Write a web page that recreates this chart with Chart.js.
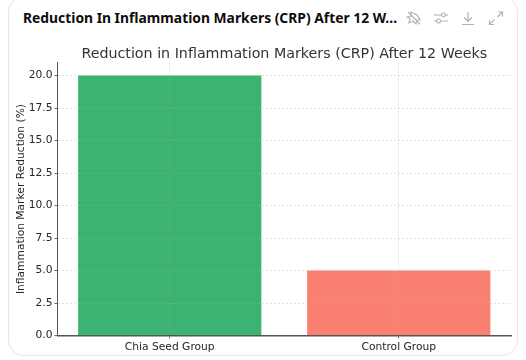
<!DOCTYPE html>
<html>
<head>
<meta charset="utf-8">
<script src="https://cdn.jsdelivr.net/npm/chart.js@4"></script>
<style>
    html, body { margin: 0; padding: 0; background: #fff; overflow: hidden; }
    #wrap { position: relative; width: 526px; height: 360px; }
    #card { position: absolute; left: 8px; top: -4px; width: 508px; height: 358px; border: 1px solid #e6e6e6; border-radius: 16px; box-sizing: content-box; }
    #head { position: absolute; left: 23px; top: 8px; font: 700 13.85px "Noto Sans", sans-serif; color: #0d0d0d; white-space: nowrap; }
    .ic { position: absolute; top: 10px; width: 16px; height: 16px; fill: none; stroke: #b4b4b4; stroke-width: 1.2; }
    canvas { position: absolute; left: 0; top: 0; }
</style>
</head>
<body>
<div id="wrap">
    <div id="card"></div>
    <div id="head">Reduction In Inflammation Markers (CRP) After 12 W...</div>
    <svg class="ic" style="left:406px" viewBox="0 0 16 16"><path d="M5 2l6 3 3 5-3 0-1 4-3-3-4 2 1-4-3-2 4-1zM2 2l12 12"/></svg>
    <svg class="ic" style="left:433px" viewBox="0 0 16 16"><path d="M1 5h8M12 5h3M1 11h3M7 11h8"/><circle cx="10.5" cy="5" r="2"/><circle cx="5.5" cy="11" r="2"/></svg>
    <svg class="ic" style="left:460px" viewBox="0 0 16 16"><path d="M8 2v9M4 7.5l4 4 4-4M2 14.5h12"/></svg>
    <svg class="ic" style="left:488px" viewBox="0 0 16 16"><path d="M10 2h4.5v4.5M14.5 2l-5 5M6 14.5H1.5V10M1.5 14.5l5-5"/></svg>
    <canvas id="chart" width="526" height="360"></canvas>
</div>
<script>
const categories = ['Chia Seed Group', 'Control Group'];
const reductionValues = [20, 5];
const barColors = ['#3CB371', '#FA8072'];
const chartTitle = 'Reduction in Inflammation Markers (CRP) After 12 Weeks';
const yAxisTitle = 'Inflammation Marker Reduction (%)';

const fontName = '"DejaVu Sans", sans-serif';
const gridColor = 'rgba(170,170,170,0.45)';

new Chart(document.getElementById('chart'), {
    type: 'bar',
    data: {
        datasets: [{
            data: reductionValues.map(function (v, i) { return { x: i, y: v }; }),
            backgroundColor: barColors,
            borderWidth: 0,
            barPercentage: 0.8,
            categoryPercentage: 1
        }]
    },
    options: {
        responsive: false,
        animation: false,
        layout: { padding: { left: 0, right: 15, top: 0, bottom: 0 } },
        plugins: {
            legend: { display: false },
            tooltip: { enabled: false },
            title: {
                display: true,
                text: chartTitle,
                fullSize: false,
                color: '#333333',
                font: { family: fontName, size: 14.25, weight: 'normal' },
                padding: { top: 45.5, bottom: 0 }
            }
        },
        scales: {
            x: {
                type: 'linear',
                offset: false,
                min: -0.49,
                max: 1.49,
                afterBuildTicks: function (scale) {
                    scale.ticks = categories.map(function (c, i) { return { value: i }; });
                },
                afterFit: function (scale) { scale.height = 24.5; },
                grid: {
                    offset: false,
                    color: gridColor,
                    tickColor: '#444444',
                    tickLength: 3,
                    lineWidth: 0.8,
                    z: 1
                },
                border: { display: true, color: '#555555', width: 1.4, dash: [2, 2], z: 2 },
                ticks: {
                    color: '#262626',
                    font: { family: fontName, size: 10.7 },
                    padding: 2,
                    maxRotation: 0,
                    autoSkip: false,
                    callback: function (value) { return categories[value]; }
                }
            },
            y: {
                min: 0,
                max: 21,
                afterFit: function (scale) { scale.width = 57.5; },
                grid: {
                    color: gridColor,
                    tickColor: '#444444',
                    tickLength: 3,
                    lineWidth: 0.8,
                    z: 1
                },
                border: { display: true, color: '#555555', width: 1, dash: [2, 2], z: 2 },
                title: {
                    display: true,
                    text: yAxisTitle,
                    color: '#262626',
                    font: { family: fontName, size: 10.7 },
                    padding: { top: 15, bottom: 1 }
                },
                ticks: {
                    color: '#262626',
                    font: { family: fontName, size: 10.7 },
                    padding: 2,
                    stepSize: 2.5,
                    includeBounds: false,
                    callback: function (value) { return value.toFixed(1); }
                }
            }
        }
    }
});
</script>
</body>
</html>
